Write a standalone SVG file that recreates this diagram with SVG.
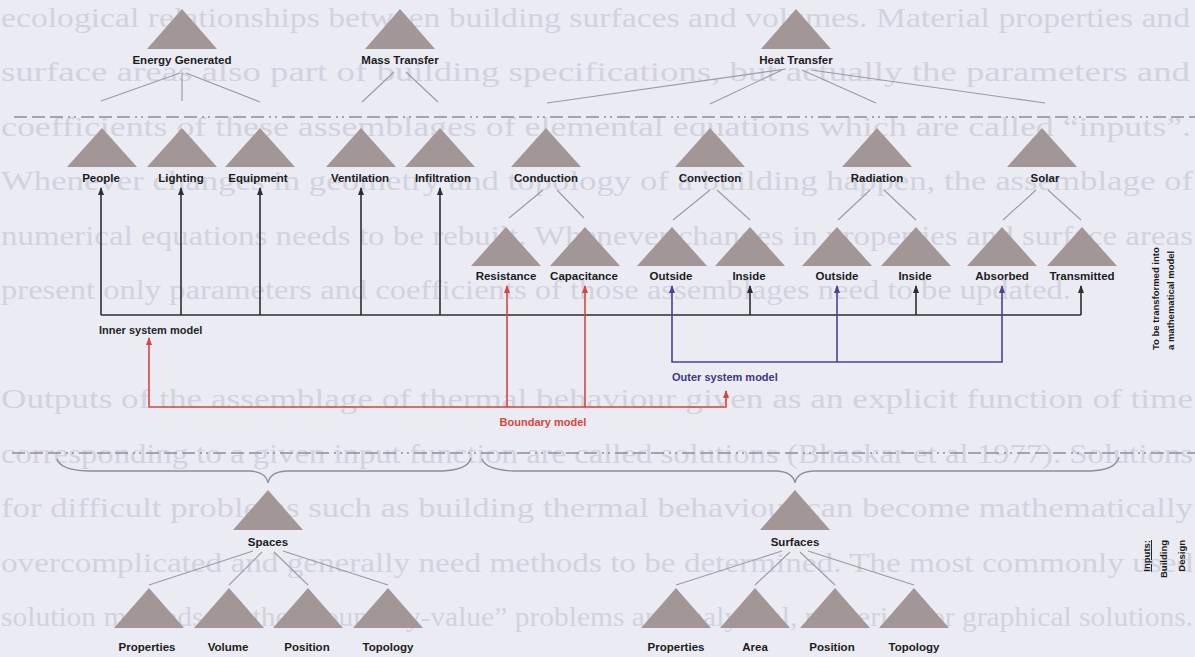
<svg xmlns="http://www.w3.org/2000/svg" width="1195" height="657" viewBox="0 0 1195 657">
  <style>
    .page { font-family: "Liberation Serif", "Times New Roman", serif; font-size: 27px; fill: #d2d2de; }
    .tri { fill: #a39696; }
    .lbl { font-family: "Liberation Sans", Arial, sans-serif; font-weight: bold; font-size: 11.5px; fill: #1c1c1c; text-anchor: middle; }
    .note { font-family: "Liberation Sans", Arial, sans-serif; font-weight: bold; font-size: 11px; }
    .side { font-family: "Liberation Sans", Arial, sans-serif; font-weight: bold; font-size: 9.5px; fill: #1c1c1c; }
    .tree { stroke: #9a9aa6; stroke-width: 1.1; fill: none; }
    .sep { stroke: #8d8d98; stroke-width: 1.6; fill: none; stroke-dasharray: 13 5 13 5 13 5 2 4 2 5; }
    .brace { stroke: #8d8d98; stroke-width: 1.3; fill: none; }
    .k { stroke: #2e2e2e; stroke-width: 1.6; fill: none; }
    .r { stroke: #d6463e; stroke-width: 1.6; fill: none; }
    .b { stroke: #4b4196; stroke-width: 1.6; fill: none; }
  </style>
  <defs>
    <marker id="ak" viewBox="0 0 8 6" refX="7" refY="3" markerWidth="8" markerHeight="6" markerUnits="userSpaceOnUse" orient="auto-start-reverse">
      <path d="M0,0 L8,3 L0,6 z" fill="#2e2e2e"/>
    </marker>
    <marker id="ar" viewBox="0 0 8 6" refX="7" refY="3" markerWidth="8" markerHeight="6" markerUnits="userSpaceOnUse" orient="auto-start-reverse">
      <path d="M0,0 L8,3 L0,6 z" fill="#d6463e"/>
    </marker>
    <marker id="ab" viewBox="0 0 8 6" refX="7" refY="3" markerWidth="8" markerHeight="6" markerUnits="userSpaceOnUse" orient="auto-start-reverse">
      <path d="M0,0 L8,3 L0,6 z" fill="#4b4196"/>
    </marker>
  </defs>

  <rect width="1195" height="657" fill="#ebebf4"/>

  <!-- printed page text behind the figure -->
  <g id="page-text" class="page">
    <text x="1" y="27" textLength="1189" lengthAdjust="spacingAndGlyphs">ecological relationships between building surfaces and volumes. Material properties and</text>
    <text x="1" y="81" textLength="1189" lengthAdjust="spacingAndGlyphs">surface areas also part of building specifications, but actually the parameters and</text>
    <text x="1" y="136" textLength="1190" lengthAdjust="spacingAndGlyphs">coefficients of these assemblages of elemental equations which are called “inputs”.</text>
    <text x="1" y="190" textLength="1192" lengthAdjust="spacingAndGlyphs">Whenever changes in geometry and topology of a building happen, the assemblage of</text>
    <text x="1" y="245" textLength="1192" lengthAdjust="spacingAndGlyphs">numerical equations needs to be rebuilt. Whenever changes in properties and surface areas</text>
    <text x="1" y="299" textLength="1070" lengthAdjust="spacingAndGlyphs">present only parameters and coefficients of those assemblages need to be updated.</text>
    <text x="1" y="408" textLength="1192" lengthAdjust="spacingAndGlyphs">Outputs of the assemblage of thermal behaviour given as an explicit function of time</text>
    <text x="1" y="463" textLength="1192" lengthAdjust="spacingAndGlyphs">corresponding to a given input function are called solutions (Bhaskar et al 1977). Solutions</text>
    <text x="1" y="517" textLength="1192" lengthAdjust="spacingAndGlyphs">for difficult problems such as building thermal behaviour can become mathematically</text>
    <text x="1" y="572" textLength="1192" lengthAdjust="spacingAndGlyphs">overcomplicated and generally need methods to be determined. The most commonly used</text>
    <text x="1" y="626" textLength="1192" lengthAdjust="spacingAndGlyphs">solution methods for the “boundary-value” problems are analytical, numerical or graphical solutions.</text>
  </g>

  <!-- level separators and braces -->
  <g id="separators">
    <line class="sep" x1="14" y1="117" x2="1195" y2="117"/>
    <line class="sep" x1="12" y1="453" x2="1195" y2="453"/>
    <path class="brace" d="M57,459 Q60,470 88,471 L250,471 Q266,472 268,483 Q270,472 286,471 L442,471 Q468,470 471,458"/>
    <path class="brace" d="M482,459 Q486,470 514,471 L777,471 Q793,472 795,483 Q797,472 813,471 L1090,471 Q1116,470 1119,457"/>
  </g>

  <!-- hierarchy lines -->
  <g id="tree-lines" class="tree">
    <path d="M180,73 L101,101 M182,73 L182,101 M186,73 L260,102"/>
    <path d="M394,72 L362,102 M406,72 L438,102"/>
    <path d="M786,69 L547,103 M782,70 L710,104 M802,70 L876,103 M811,70 L1045,103"/>
    <path d="M543,190 L509,218 M557,190 L584,218"/>
    <path d="M710,190 L673,220 M717,190 L750,220"/>
    <path d="M870,190 L838,220 M884,190 L916,220"/>
    <path d="M1036,190 L1003,220 M1048,190 L1081,220"/>
    <path d="M253,551 L149,585 M262,552 L229,585 M274,552 L308,585 M283,551 L388,585"/>
    <path d="M782,551 L676,585 M790,552 L755,585 M800,552 L835,585 M808,551 L914,585"/>
  </g>

  <!-- top level -->
  <g id="energy-generated"><polygon class="tri" points="147,49 182,9 217,49"/><text class="lbl" x="182" y="64">Energy Generated</text></g>
  <g id="mass-transfer"><polygon class="tri" points="365,49 400,9 435,49"/><text class="lbl" x="400" y="64">Mass Transfer</text></g>
  <g id="heat-transfer"><polygon class="tri" points="761,49 796,9 831,49"/><text class="lbl" x="796" y="64">Heat Transfer</text></g>

  <!-- second level -->
  <g id="people"><polygon class="tri" points="67,167 102,128 137,167"/><text class="lbl" x="101" y="182">People</text></g>
  <g id="lighting"><polygon class="tri" points="147,167 182,128 217,167"/><text class="lbl" x="181" y="182">Lighting</text></g>
  <g id="equipment"><polygon class="tri" points="225,167 260,128 295,167"/><text class="lbl" x="258" y="182">Equipment</text></g>
  <g id="ventilation"><polygon class="tri" points="326,167 361,128 396,167"/><text class="lbl" x="360" y="182">Ventilation</text></g>
  <g id="infiltration"><polygon class="tri" points="405,167 440,128 475,167"/><text class="lbl" x="443" y="182">Infiltration</text></g>
  <g id="conduction"><polygon class="tri" points="511,167 546,128 581,167"/><text class="lbl" x="546" y="182">Conduction</text></g>
  <g id="convection"><polygon class="tri" points="675,167 710,128 745,167"/><text class="lbl" x="710" y="182">Convection</text></g>
  <g id="radiation"><polygon class="tri" points="842,167 877,128 912,167"/><text class="lbl" x="877" y="182">Radiation</text></g>
  <g id="solar"><polygon class="tri" points="1007,167 1042,128 1077,167"/><text class="lbl" x="1045" y="182">Solar</text></g>

  <!-- third level -->
  <g id="resistance"><polygon class="tri" points="471,266 506,227 541,266"/><text class="lbl" x="506" y="280">Resistance</text></g>
  <g id="capacitance"><polygon class="tri" points="550,266 585,227 620,266"/><text class="lbl" x="584" y="280">Capacitance</text></g>
  <g id="convection-outside"><polygon class="tri" points="637,266 672,227 707,266"/><text class="lbl" x="671" y="280">Outside</text></g>
  <g id="convection-inside"><polygon class="tri" points="715,266 750,227 785,266"/><text class="lbl" x="749" y="280">Inside</text></g>
  <g id="radiation-outside"><polygon class="tri" points="802,266 837,227 872,266"/><text class="lbl" x="837" y="280">Outside</text></g>
  <g id="radiation-inside"><polygon class="tri" points="881,266 916,227 951,266"/><text class="lbl" x="915" y="280">Inside</text></g>
  <g id="absorbed"><polygon class="tri" points="967,266 1002,227 1037,266"/><text class="lbl" x="1002" y="280">Absorbed</text></g>
  <g id="transmitted"><polygon class="tri" points="1047,266 1082,227 1117,266"/><text class="lbl" x="1082" y="280">Transmitted</text></g>

  <!-- building design inputs -->
  <g id="spaces"><polygon class="tri" points="233,530 268,490 303,530"/><text class="lbl" x="268" y="546">Spaces</text></g>
  <g id="spaces-properties"><polygon class="tri" points="114,628 149,588 184,628"/><text class="lbl" x="147" y="651">Properties</text></g>
  <g id="spaces-volume"><polygon class="tri" points="194,628 229,588 264,628"/><text class="lbl" x="228" y="651">Volume</text></g>
  <g id="spaces-position"><polygon class="tri" points="273,628 308,588 343,628"/><text class="lbl" x="307" y="651">Position</text></g>
  <g id="spaces-topology"><polygon class="tri" points="353,628 388,588 423,628"/><text class="lbl" x="388" y="651">Topology</text></g>
  <g id="surfaces"><polygon class="tri" points="760,530 795,490 830,530"/><text class="lbl" x="795" y="546">Surfaces</text></g>
  <g id="surfaces-properties"><polygon class="tri" points="641,628 676,588 711,628"/><text class="lbl" x="676" y="651">Properties</text></g>
  <g id="surfaces-area"><polygon class="tri" points="720,628 755,588 790,628"/><text class="lbl" x="755" y="651">Area</text></g>
  <g id="surfaces-position"><polygon class="tri" points="800,628 835,588 870,628"/><text class="lbl" x="832" y="651">Position</text></g>
  <g id="surfaces-topology"><polygon class="tri" points="879,628 914,588 949,628"/><text class="lbl" x="914" y="651">Topology</text></g>

  <!-- model connectors -->
  <g id="connectors">
    <path class="k" d="M101,315 H1081"/>
    <path class="k" d="M101,315 V188" marker-end="url(#ak)"/>
    <path class="k" d="M181,315 V188" marker-end="url(#ak)"/>
    <path class="k" d="M260,315 V188" marker-end="url(#ak)"/>
    <path class="k" d="M361,315 V188" marker-end="url(#ak)"/>
    <path class="k" d="M440,315 V188" marker-end="url(#ak)"/>
    <path class="k" d="M750,315 V286" marker-end="url(#ak)"/>
    <path class="k" d="M916,315 V286" marker-end="url(#ak)"/>
    <path class="k" d="M1081,315 V286" marker-end="url(#ak)"/>
    <path class="b" d="M672,286 V362 H1002 V286" marker-start="url(#ab)" marker-end="url(#ab)"/>
    <path class="b" d="M837,362 V286" marker-end="url(#ab)"/>
    <path class="r" d="M149,338 V407 H726 V391" marker-start="url(#ar)" marker-end="url(#ar)"/>
    <path class="r" d="M507,407 V286" marker-end="url(#ar)"/>
    <path class="r" d="M585,407 V286" marker-end="url(#ar)"/>
  </g>

  <!-- model names -->
  <g id="model-labels" class="note">
    <text x="99" y="334" fill="#262626">Inner system model</text>
    <text x="672" y="381" fill="#3f3587">Outer system model</text>
    <text x="543" y="426" fill="#d6463e" text-anchor="middle">Boundary model</text>
  </g>

  <!-- side notes -->
  <g id="side-notes" class="side">
    <text transform="translate(1159,350) rotate(-90)">To be transformed into</text>
    <text transform="translate(1174,350) rotate(-90)">a mathematical model</text>
    <text transform="translate(1150,540) rotate(-90)" text-anchor="end" text-decoration="underline">Inputs:</text>
    <text transform="translate(1167,540) rotate(-90)" text-anchor="end">Building</text>
    <text transform="translate(1185,540) rotate(-90)" text-anchor="end">Design</text>
  </g>
</svg>
